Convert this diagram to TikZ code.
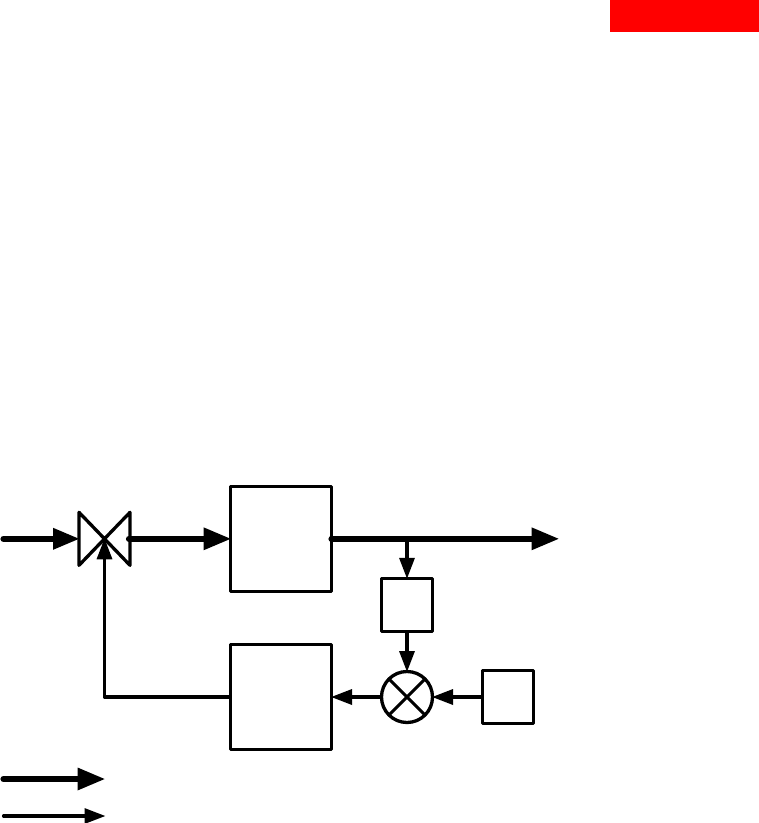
\documentclass[tikz,border=0pt]{standalone}
\usetikzlibrary{arrows.meta}
\tikzset{
  block/.style={draw=black,rectangle,line width=3.3pt,line join=round,inner sep=0pt,outer sep=0pt,minimum width=#1},
  bigblock/.style={block=101pt,minimum height=105pt},
  smallblock/.style={block=51pt,minimum height=53pt},
  mixer/.style={draw=black,circle,line width=3.3pt,inner sep=0pt,outer sep=0pt,minimum size=51pt},
  valvebox/.style={rectangle,inner sep=0pt,outer sep=0pt,minimum width=51pt,minimum height=53pt},
  flowbig/.style={line width=6.2pt,line cap=round,shorten >=-1pt,-{Triangle[length=28pt,width=21pt]}},
  flowmid/.style={line width=6.2pt,line cap=round,shorten >=-1pt,-{Triangle[length=27pt,width=20pt]}},
  signal/.style={line width=3.3pt,line join=round,shorten >=-0.5pt,-{Triangle[length=21pt,width=15pt]}},
  legendthin/.style={line width=3.1pt,line cap=round,shorten >=-1pt,-{Triangle[length=21pt,width=15pt]}},
  outline/.style={line width=3.3pt,line join=round,line cap=round},
}
\begin{document}
\begin{tikzpicture}[x=1pt,y=-1pt]
\useasboundingbox (0,0) rectangle (759,823);
\fill[white] (0,0) rectangle (759,823);
\node[fill=red,rectangle,inner sep=0pt,outer sep=0pt,minimum width=149pt,minimum height=32pt] (banner) at (684.5,16) {};
\node[bigblock] (plant) at (281,538.8) {};
\node[bigblock] (ctrl) at (281,697) {};
\node[smallblock] (sensor) at (407,604.8) {};
\node[smallblock] (setp) at (507.8,697) {};
\node[mixer] (mix) at (407,697) {};
\node[valvebox] (valve) at (104.5,538.8) {};
\draw[outline] (valve.north west) -- (valve.south east) -- (valve.north east) -- (valve.south west) -- cycle;
\draw[line width=2.9pt] (mix.45) -- (mix.225) (mix.135) -- (mix.315);
\coordinate (inlet) at (3.5,538.8);
\coordinate (outlet) at (558.5,538.8);
\coordinate (tap) at (407,538.8);
\coordinate (corner) at (104.5,697);
\coordinate (legA) at (3.5,779);
\coordinate (legAend) at (104.5,779);
\coordinate (legB) at (3.5,816);
\coordinate (legBend) at (104.5,816);
\draw[flowmid] (inlet) -- (valve.west);
\draw[flowbig] ([xshift=-1pt]valve.east) -- (plant.west);
\draw[flowbig] ([xshift=0pt]plant.east) -- (outlet);
\draw[signal] (tap) -- (sensor.north);
\draw[signal] (sensor.south) -- (mix.north);
\draw[signal] (setp.west) -- (mix.east);
\draw[signal] (mix.west) -- (ctrl.east);
\draw[signal] (ctrl.west) -- (corner) -- (valve.center);
\draw[flowbig] (legA) -- (legAend);
\draw[legendthin] (legB) -- (legBend);
\end{tikzpicture}
\end{document}
